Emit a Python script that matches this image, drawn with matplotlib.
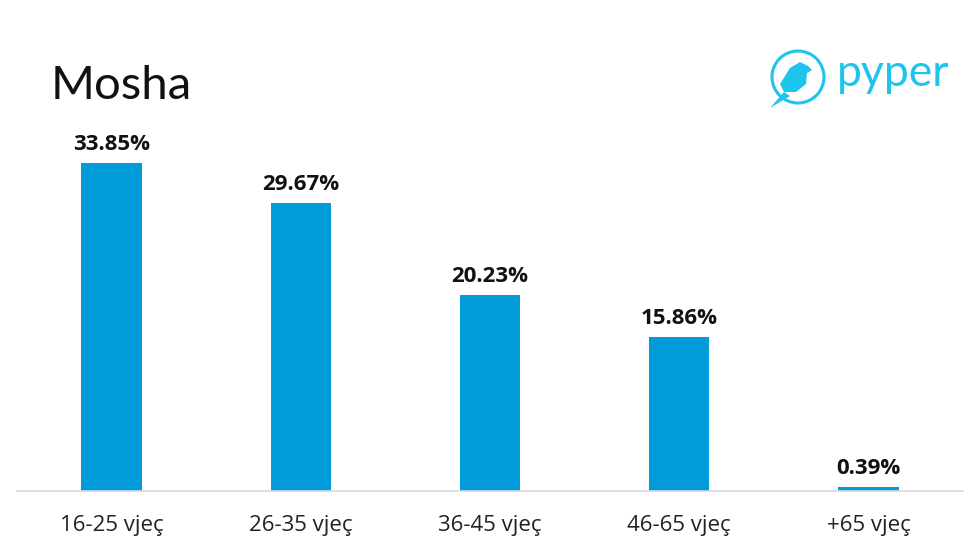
import matplotlib
matplotlib.use("Agg")
import matplotlib.pyplot as plt
from matplotlib.patches import Circle, Polygon

categories = ["16-25 vjeç", "26-35 vjeç", "36-45 vjeç", "46-65 vjeç", "+65 vjeç"]
values = [33.85, 29.67, 20.23, 15.86, 0.39]

bar_color = "#009BD8"
logo_color = "#1CC4EE"

fig = plt.figure(figsize=(9.8, 5.51), dpi=100)
ax = fig.add_axes([17 / 980, 60 / 551, 946 / 980, 387.6 / 551])

x = range(len(categories))
bars = ax.bar(x, values, width=0.32, color=bar_color)
ax.set_xlim(-0.5, len(categories) - 0.5)
ax.set_ylim(0, 40)

for b, v in zip(bars, values):
    ax.annotate("%.2f%%" % v, (b.get_x() + b.get_width() / 2, v),
                xytext=(0, 6), textcoords="offset points",
                ha="center", va="bottom", fontsize=16, fontweight="bold",
                family="Open Sans", color="#111111")

ax.set_xticks(list(x))
ax.set_xticklabels(categories, fontsize=16, family="Open Sans", color="#222222")
ax.tick_params(axis="x", length=0, pad=17)
ax.set_yticks([])
for s in ["top", "left", "right"]:
    ax.spines[s].set_visible(False)
ax.spines["bottom"].set_color("#D9D9D9")
ax.spines["bottom"].set_linewidth(1.2)

# title
fig.text(51 / 980, 1 - 86 / 551, "Mosha", fontsize=34, family="Lato",
         va="center", ha="left", color="#111111")

# logo
lax = fig.add_axes([760 / 980, 1 - 120 / 551, 200 / 980, 80 / 551])
lax.set_xlim(0, 200)
lax.set_ylim(80, 0)
lax.set_aspect("equal")
lax.axis("off")
lax.add_patch(Circle((38, 37), 26, fill=False, ec=logo_color, lw=2.2))
lax.add_patch(Polygon([[20, 44], [30, 28], [40, 22], [48, 26], [52, 30], [47, 33],
                       [46, 44], [36, 52], [24, 52]], closed=True, fc=logo_color, ec="none"))
lax.add_patch(Polygon([[24, 52], [10, 68], [30, 56]], closed=True, fc=logo_color, ec="none"))
lax.text(77, 34, "pyper", fontsize=32, color=logo_color, family="Lato",
         va="center", ha="left")

fig.savefig("out.png", dpi=100, facecolor="white")
